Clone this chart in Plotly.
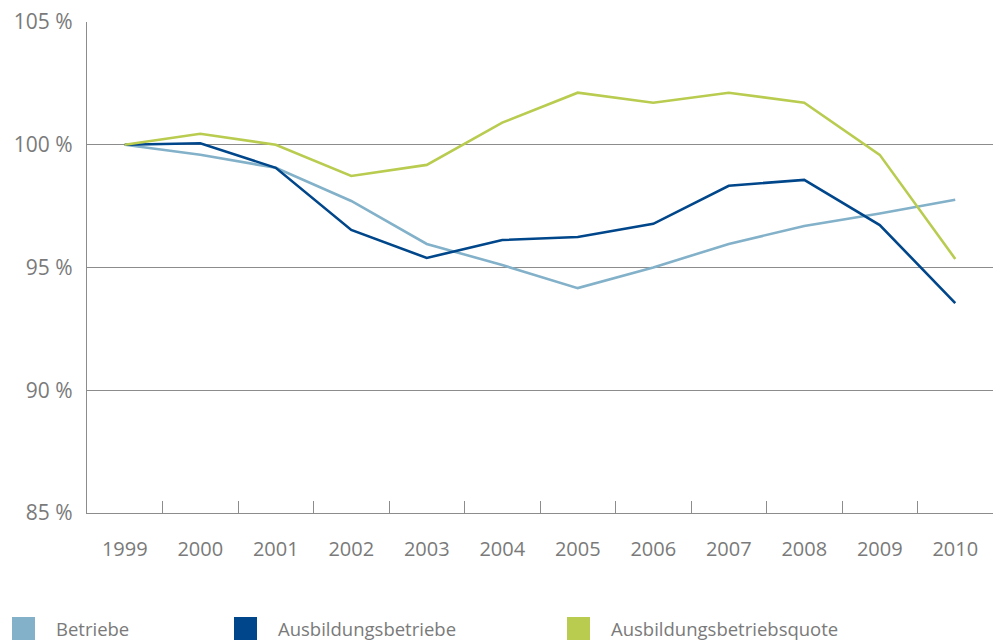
import plotly.graph_objects as go

years = ["1999", "2000", "2001", "2002", "2003", "2004", "2005", "2006", "2007", "2008", "2009", "2010"]
betriebe = [100.0, 99.59, 99.06, 97.71, 95.96, 95.10, 94.16, 95.00, 95.96, 96.69, 97.20, 97.76]
ausbildungsbetriebe = [100.0, 100.06, 99.06, 96.53, 95.39, 96.12, 96.24, 96.78, 98.33, 98.57, 96.73, 93.55]
quote = [100.0, 100.45, 100.0, 98.73, 99.18, 100.90, 102.12, 101.71, 102.12, 101.71, 99.59, 95.35]

series_names = ["Betriebe", "Ausbildungsbetriebe", "Ausbildungsbetriebsquote"]
colors = ["#82b1c9", "#00468a", "#b9cc50"]
y_ticks = [85, 90, 95, 100, 105]
y_ticktext = ["85 %", "90 %", "95 %", "100 %", "105 %"]

font_family = "Open Sans, Noto Sans, sans-serif"
gray_text = "#7a7a7a"
axis_gray = "#8c8c8c"

fig = go.Figure()
for name, vals, col in zip(series_names, [betriebe, ausbildungsbetriebe, quote], colors):
    fig.add_trace(go.Scatter(x=years, y=vals, mode="lines", name=name,
                             line=dict(color=col, width=2.6), showlegend=False))

# manual legend (large squares + text)
leg_x = [12, 234, 567]
for name, col, x0 in zip(series_names, colors, leg_x):
    fig.add_shape(type="rect", xref="paper", yref="paper",
                  x0=(x0 - 87) / 906, x1=(x0 + 23 - 87) / 906,
                  y0=-(617 - 513) / 491 - 23 / 491, y1=-(617 - 513) / 491,
                  line=dict(width=0), fillcolor=col)
    fig.add_annotation(xref="paper", yref="paper", x=(x0 + 42 - 87) / 906,
                       y=-(628 - 513) / 491, text=name, showarrow=False,
                       xanchor="left", yanchor="middle",
                       font=dict(family=font_family, size=18.5, color=gray_text))

fig.update_layout(
    width=995, height=641,
    margin=dict(l=87, r=2, t=22, b=128),
    paper_bgcolor="white", plot_bgcolor="white",
    font=dict(family=font_family, size=20, color=gray_text),
    xaxis=dict(type="category", range=[-0.5, 11.5], tickson="boundaries",
               ticks="inside", ticklen=12, tickcolor=axis_gray, tickwidth=1.3,
               showline=True, linecolor=axis_gray, linewidth=1.3,
               showgrid=False, ticklabelstandoff=18, automargin=False,
               tickfont=dict(family=font_family, size=20, color=gray_text)),
    yaxis=dict(range=[85, 105], tickvals=y_ticks, ticktext=y_ticktext,
               showline=True, linecolor=axis_gray, linewidth=1.3,
               showgrid=True, gridcolor=axis_gray, gridwidth=1.3,
               zeroline=False, ticks="", ticklabelstandoff=9, automargin=False,
               tickfont=dict(family=font_family, size=21, color=gray_text)),
)

fig.write_html("out.html", config={"displayModeBar": False},
               post_script="document.body.style.margin='0';document.body.style.overflow='hidden';")
